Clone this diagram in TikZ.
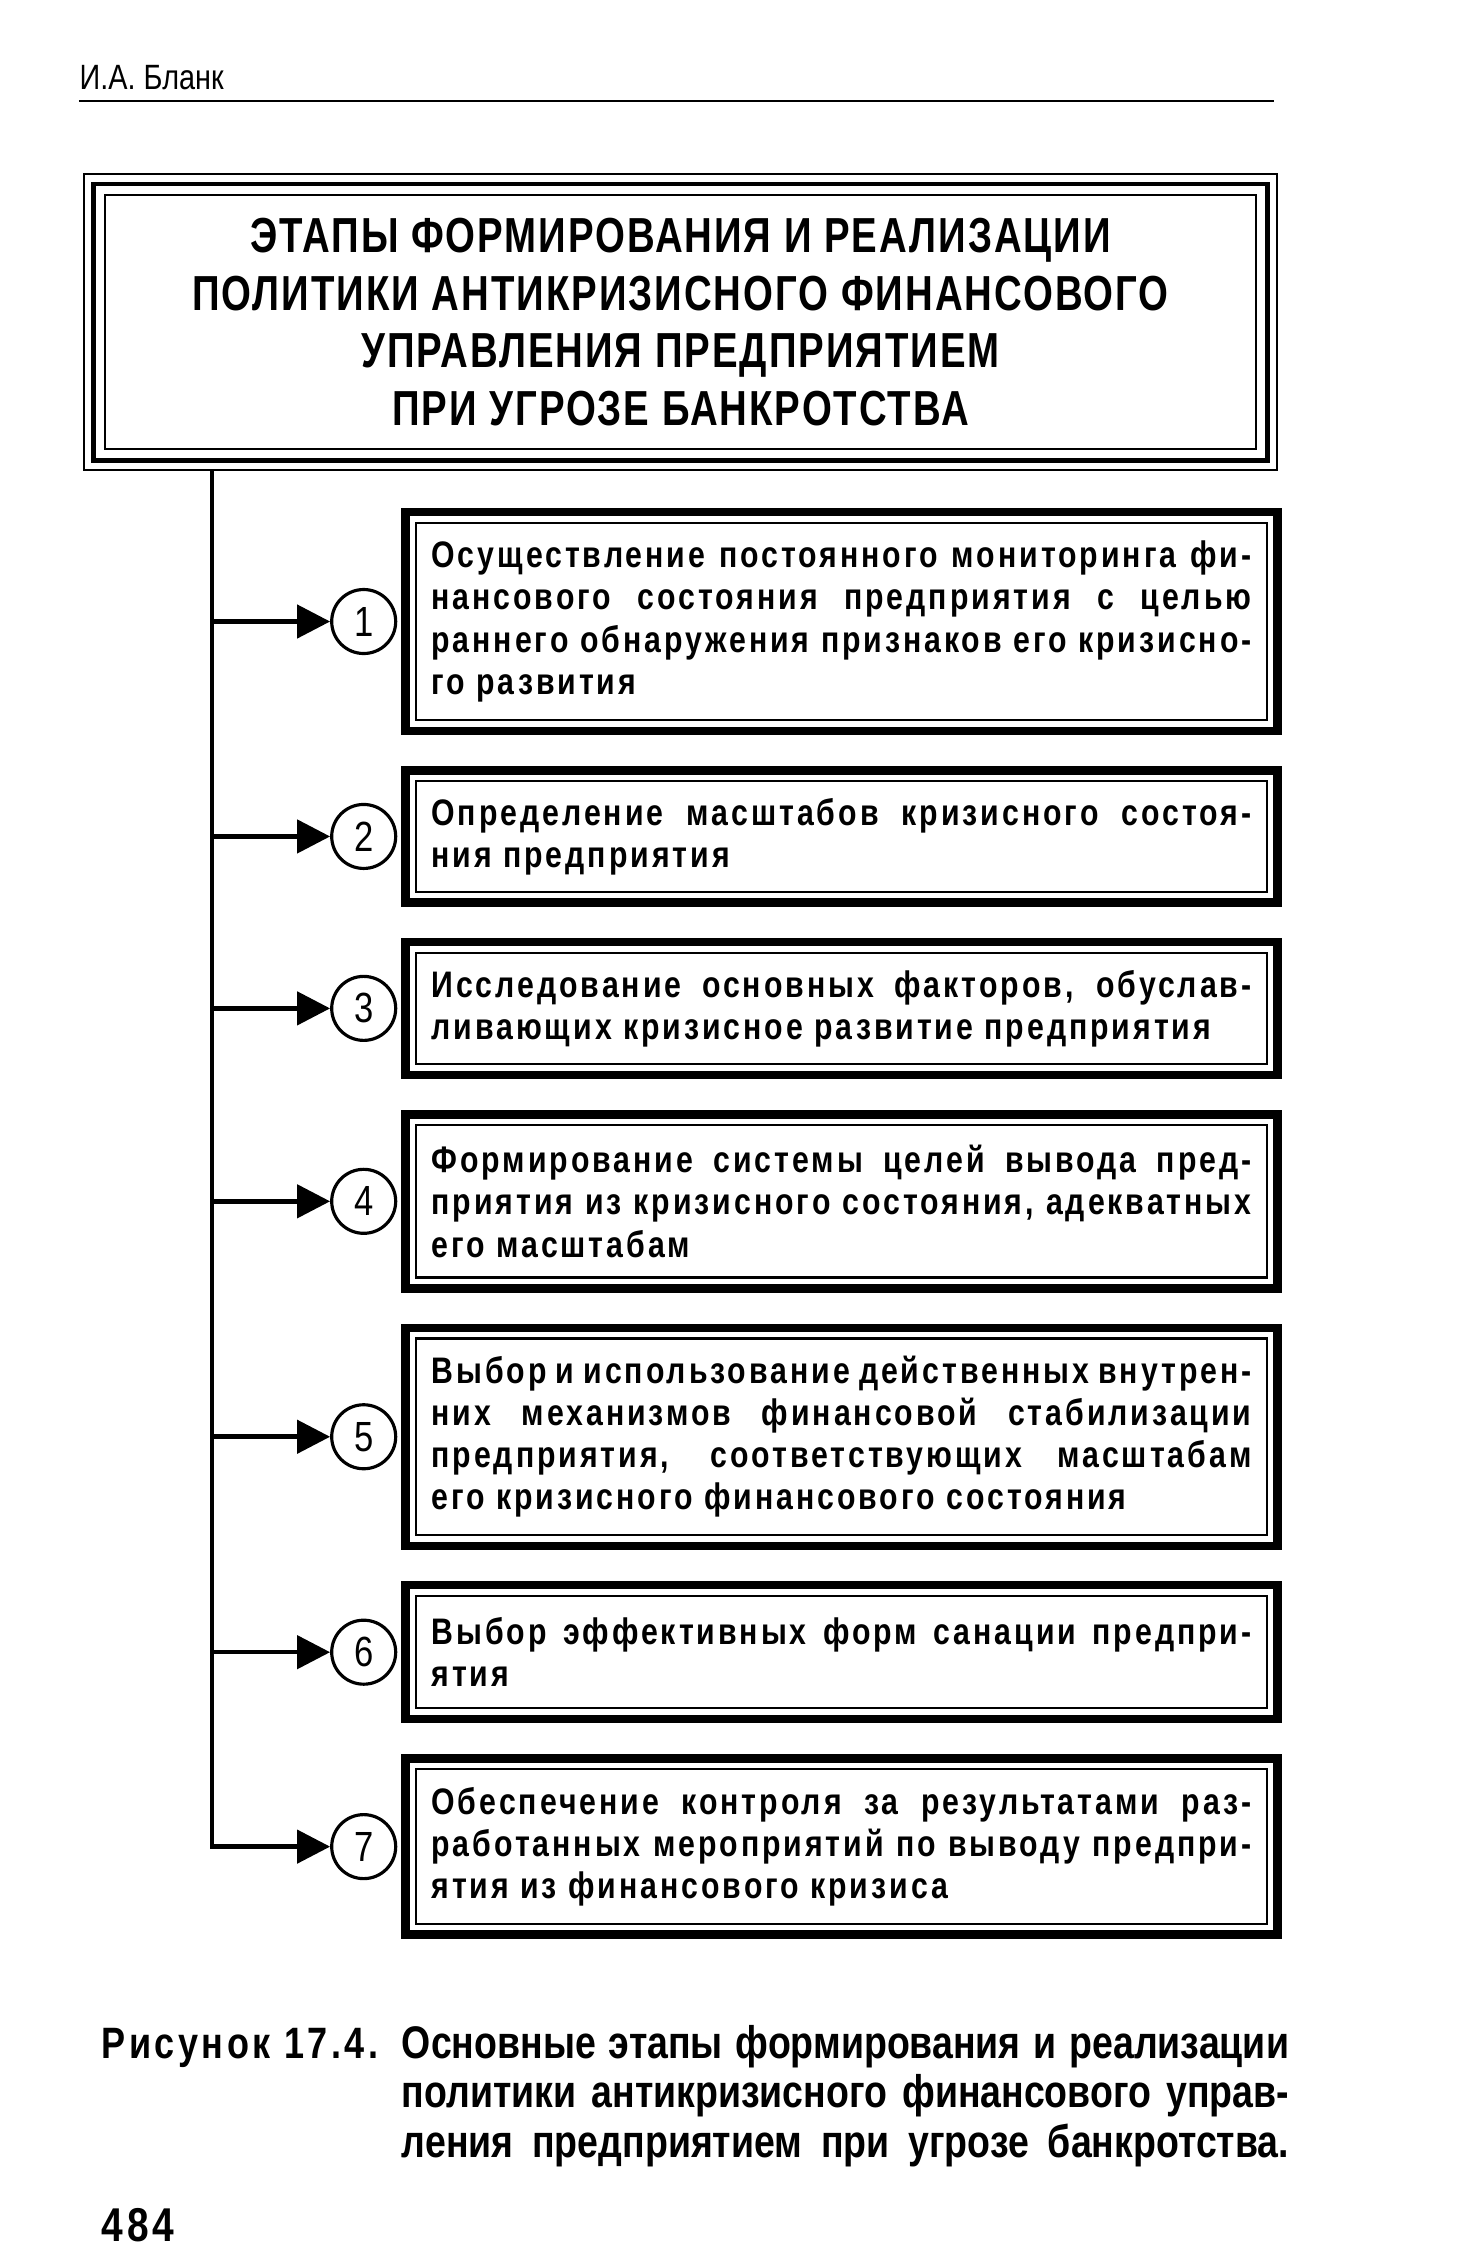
\documentclass[tikz,border=0pt]{standalone}
\usepackage{fontspec}
\setmainfont{Liberation Sans}[FakeStretch=0.82]
\newfontfamily\spacedfont{Liberation Sans}[FakeStretch=0.82,LetterSpace=8]
\newfontfamily\headfont{Liberation Sans}[FakeStretch=0.78,LetterSpace=4]
\usetikzlibrary{positioning}
\usetikzlibrary{arrows.meta}
\tikzset{
>={Triangle[length=3.3mm,width=3.3mm]}, % solid triangular tips
author/.style={inner sep=0pt,font=\fontsize{10}{10}\selectfont},
rule/.style={line width=0.6pt},
title box/.style={draw,line width=0.6pt,minimum width=11.93cm,minimum height=2.96cm,
  align=center,font=\headfont\fontsize{14}{16.4}\selectfont\bfseries},
step box/.style={draw,line width=2.4pt,minimum width=8.72cm,text width=8.2cm,
  align=justify,inner sep=0pt,font=\spacedfont\fontsize{10.5}{12}\selectfont\bfseries},
num/.style={draw,circle,line width=0.9pt,minimum size=6.4mm,inner sep=0pt,
  font=\fontsize{12}{12}\selectfont},
flow/.style={->,line width=1.3pt},
thin frame/.style={line width=0.6pt},
thick frame/.style={line width=1.4pt},
cap label/.style={inner sep=0pt,font=\spacedfont\fontsize{12.5}{14.2}\selectfont\bfseries},
cap text/.style={inner sep=0pt,text width=8.87cm,align=justify,
  font=\fontsize{13}{14.2}\selectfont\bfseries},
page/.style={inner sep=0pt,font=\spacedfont\fontsize{13.5}{13.5}\selectfont\bfseries}
}
\begin{document}
\begin{tikzpicture}[node distance=3.1mm]
\useasboundingbox (0,0) rectangle (14.84,-22.56);
% header
\node[author,anchor=base west] (author) at (0.79,-0.89) {И.А. Бланк};
\draw[rule] (0.79,-1.01) -- (12.74,-1.01);
% title
\node[title box] (title) at (6.805,-3.22) {ЭТАПЫ ФОРМИРОВАНИЯ И РЕАЛИЗАЦИИ\\
  ПОЛИТИКИ АНТИКРИЗИСНОГО ФИНАНСОВОГО\\УПРАВЛЕНИЯ ПРЕДПРИЯТИЕМ\\ПРИ УГРОЗЕ БАНКРОТСТВА};
\draw[thick frame] ([shift={(1.1mm,-1.1mm)}]title.north west) rectangle ([shift={(-1.1mm,1.1mm)}]title.south east);
\draw[thin frame] ([shift={(2.2mm,-2.2mm)}]title.north west) rectangle ([shift={(-2.2mm,2.2mm)}]title.south east);
% stages
\node[step box,minimum height=2.19cm] (s1) at (8.415,-6.215)
  {Осуществление постоянного мониторинга фи-\linebreak нансового состояния предприятия с целью\linebreak
   раннего обнаружения признаков его кризисно-\linebreak го развития};
\node[step box,minimum height=1.32cm] (s2) [below=of s1]
  {Определение масштабов кризисного состоя-\linebreak ния предприятия};
\node[step box,minimum height=1.33cm] (s3) [below=of s2]
  {Исследование основных факторов, обуслав-\linebreak ливающих кризисное развитие предприятия};
\node[step box,minimum height=1.74cm] (s4) [below=of s3]
  {Формирование системы целей вывода пред-\linebreak приятия из кризисного состояния, адекватных\linebreak
   его масштабам};
\node[step box,minimum height=2.18cm] (s5) [below=of s4]
  {Выбор и использование действенных внутрен-\linebreak них механизмов финансовой стабилизации\linebreak
   предприятия, соответствующих масштабам\linebreak его кризисного финансового состояния};
\node[step box,minimum height=1.34cm] (s6) [below=of s5]
  {Выбор эффективных форм санации предпри-\linebreak ятия};
\node[step box,minimum height=1.76cm] (s7) [below=of s6]
  {Обеспечение контроля за результатами раз-\linebreak работанных мероприятий по выводу предпри-\linebreak
   ятия из финансового кризиса};
\foreach \i in {1,...,7}
  \draw[thin frame] ([shift={(1.5mm,-1.5mm)}]s\i.north west) rectangle ([shift={(-1.5mm,1.5mm)}]s\i.south east);
% numbers
\node[num] (c1) [left=0.4mm of s1] {1};
\node[num] (c2) [left=0.4mm of s2] {2};
\node[num] (c3) [left=0.4mm of s3] {3};
\node[num] (c4) [left=0.4mm of s4] {4};
\node[num] (c5) [left=0.4mm of s5] {5};
\node[num] (c6) [left=0.4mm of s6] {6};
\node[num] (c7) [left=0.4mm of s7] {7};
% connectors
\coordinate (root) at ([xshift=1.29cm]title.south west);
\foreach \i in {1,...,6}
  \draw[flow] (root |- c\i) -- (c\i);
\draw[flow] (root) |- (c7);
% caption
\node[cap label,anchor=base west] (fig) at (1.01,-20.58) {Рисунок 17.4.};
\node[cap text,anchor=base west] (cap) at (fig.base -| s7.west)
  {Основные этапы формирования и реализации\linebreak
   политики антикризисного финансового управ-\linebreak
   \makebox[\linewidth][s]{ления предприятием при угрозе банкротства.}};
\node[page,anchor=base west] (page) at (1.01,-22.41) {484};
\end{tikzpicture}
\end{document}
